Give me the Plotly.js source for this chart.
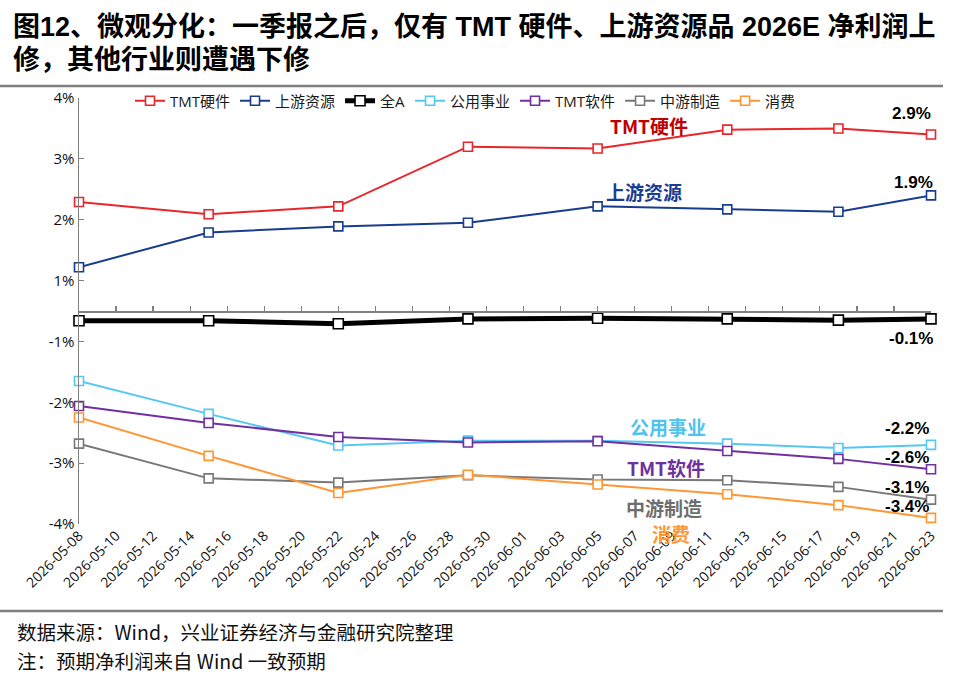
<!DOCTYPE html>
<html>
<head>
<meta charset="utf-8">
<script src="https://cdn.plot.ly/plotly-3.0.1.min.js"></script>
<style>
  html, body { margin: 0; padding: 0; background: #ffffff; }
  #chart { width: 968px; height: 680px; }
</style>
</head>
<body>
<div id="chart"></div>
<script>
// Weekly snapshots of 2026E consensus net-profit revisions (%)
const dates = ['2026-05-08', '2026-05-15', '2026-05-22', '2026-05-29', '2026-06-05', '2026-06-12', '2026-06-18', '2026-06-23'];

const tmtHardware = [1.79, 1.59, 1.72, 2.70, 2.67, 2.98, 3.00, 2.9];
const upstream    = [0.72, 1.29, 1.39, 1.45, 1.72, 1.67, 1.63, 1.9];
const allA        = [-0.16, -0.16, -0.21, -0.13, -0.12, -0.13, -0.15, -0.13];
const utilities   = [-1.15, -1.69, -2.21, -2.13, -2.13, -2.18, -2.25, -2.2];
const tmtSoftware = [-1.56, -1.84, -2.07, -2.16, -2.14, -2.30, -2.43, -2.6];
const midstream   = [-2.18, -2.75, -2.82, -2.70, -2.77, -2.78, -2.89, -3.1];
const consumer    = [-1.75, -2.38, -2.99, -2.69, -2.85, -3.01, -3.19, -3.4];

const seriesNames = ['TMT硬件', '上游资源', '全A', '公用事业', 'TMT软件', '中游制造', '消费'];

// Axis ticks sit at the half-percent gridpoints, printed with zero decimals
const yTickVals = [3.5, 2.5, 1.5, 0.5, -0.5, -1.5, -2.5, -3.5];
const yTickText = ['4%', '3%', '2%', '1%', '-1%', '-2%', '-3%', '-4%'];

const titleLines = ['图12、微观分化：一季报之后，仅有 TMT 硬件、上游资源品 2026E 净利润上', '修，其他行业则遭遇下修'];
const notes = ['数据来源：Wind，兴业证券经济与金融研究院整理', '注：预期净利润来自 Wind 一致预期'];

// ---- geometry helpers (page pixels -> paper fractions) ----
const W = 968, H = 680;
const M = { l: 79, r: 37, t: 98, b: 156 };
const PW = W - M.l - M.r, PH = H - M.t - M.b;
const px = x => (x - M.l) / PW;
const py = y => (H - M.b - y) / PH;

const CJK = '"Noto Sans CJK SC", "Noto Sans", sans-serif';
const LATIN = '"Liberation Sans", Arial, sans-serif';
const HEAD = '"Liberation Sans", "Noto Sans CJK SC", sans-serif';
const TICKF = '"Open Sans", "Noto Sans CJK SC", sans-serif';

const series = [
  { name: seriesNames[0], y: tmtHardware, color: '#E8262B', width: 2, labelColor: '#C00000', labelPos: [649, 125], valShift: [-20, 21] },
  { name: seriesNames[1], y: upstream,    color: '#183C8E', width: 2, labelColor: '#1B3D92', labelPos: [644, 191], valShift: [-18, 13] },
  { name: seriesNames[2], y: allA,        color: '#000000', width: 5, labelColor: null,      labelPos: null,       valShift: [-20, -20] },
  { name: seriesNames[3], y: utilities,   color: '#55C8F2', width: 2, labelColor: '#4EC3EF', labelPos: [668, 426], valShift: [-24, 16] },
  { name: seriesNames[4], y: tmtSoftware, color: '#7030A0', width: 2, labelColor: '#7030A0', labelPos: [666, 467], valShift: [-24, 12] },
  { name: seriesNames[5], y: midstream,   color: '#787878', width: 2, labelColor: '#6E6E6E', labelPos: [664, 507], valShift: [-24, 12.5] },
  { name: seriesNames[6], y: consumer,    color: '#FF9633', width: 2, labelColor: '#FF9633', labelPos: [671, 533], valShift: [-24, 11.5] }
];

const traces = series.map((s, i) => ({
  type: 'scatter',
  mode: 'lines+markers',
  name: s.name,
  x: dates,
  y: s.y,
  xaxis: i === 2 ? 'x2' : 'x',
  yaxis: 'y',
  cliponaxis: false,
  line: { color: s.color, width: s.width },
  marker: {
    symbol: 'square',
    size: i === 2 ? 10 : 9,
    color: '#ffffff',
    line: { color: s.color, width: 1.6 }
  },
  hoverinfo: 'x+y+name'
}));

const annotations = [];

// End-of-line value labels, tied to each series' last point
series.forEach(s => {
  const last = s.y[s.y.length - 1];
  annotations.push({
    xref: 'x', yref: 'y',
    x: dates[dates.length - 1], y: last,
    xshift: s.valShift[0], yshift: s.valShift[1],
    text: last.toFixed(1) + '%',
    showarrow: false,
    font: { family: LATIN, size: 17, color: '#000000', weight: 700 }
  });
});

// Series name labels beside the lines
series.forEach(s => {
  if (!s.labelPos) return;
  annotations.push({
    xref: 'paper', yref: 'paper',
    x: px(s.labelPos[0]), y: py(s.labelPos[1]),
    xanchor: 'center', yanchor: 'middle',
    text: s.name,
    showarrow: false,
    font: { family: CJK, size: 19, color: s.labelColor, weight: 700 }
  });
});

// Two-line heading
[27, 60].forEach((yy, i) => {
  annotations.push({
    xref: 'paper', yref: 'paper', x: px(11), y: py(yy), xanchor: 'left', yanchor: 'middle',
    text: titleLines[i], showarrow: false,
    font: { family: HEAD, size: 27, color: '#000000', weight: 700 }
  });
});

// Source notes below the chart
[631, 660].forEach((yy, i) => {
  annotations.push({
    xref: 'paper', yref: 'paper', x: px(15), y: py(yy), xanchor: 'left', yanchor: 'middle',
    text: notes[i], showarrow: false,
    font: { family: CJK, size: 19.5, color: '#111111' }
  });
});

// Grey rules framing the figure
const shapes = [86, 611].map(yy => ({
  type: 'line', xref: 'paper', yref: 'paper',
  x0: px(0), x1: px(943), y0: py(yy), y1: py(yy),
  line: { color: '#7F7F7F', width: 2.5 }
}));

const xRange = [dates[0], dates[dates.length - 1]];
const twoDays = 2 * 24 * 3600 * 1000;

const layout = {
  width: W, height: H,
  margin: M,
  paper_bgcolor: '#ffffff',
  plot_bgcolor: 'rgba(0,0,0,0)',
  showlegend: true,
  legend: {
    orientation: 'h',
    x: px(130), xanchor: 'left',
    y: py(101), yanchor: 'middle',
    bgcolor: 'rgba(0,0,0,0)',
    font: { family: TICKF, size: 15, color: '#1a1a1a' },
    itemclick: false, itemdoubleclick: false,
    traceorder: 'normal'
  },
  xaxis: {
    type: 'date',
    range: xRange,
    tick0: dates[0], dtick: twoDays,
    tickformat: '%Y-%m-%d',
    tickangle: -45,
    showline: false, showgrid: false, zeroline: false,
    ticks: '',
    tickfont: { family: TICKF, size: 14, color: '#111111' },
    anchor: 'y'
  },
  xaxis2: {
    type: 'date',
    overlaying: 'x',
    anchor: 'free', position: 0.5,
    range: xRange,
    tick0: dates[0], dtick: twoDays,
    showticklabels: false,
    showline: true, linecolor: '#808080', linewidth: 1.5,
    ticks: 'inside', ticklen: 5, tickcolor: '#808080', tickwidth: 1.2,
    showgrid: false, zeroline: false
  },
  yaxis: {
    range: [-3.5, 3.5],
    tickmode: 'array',
    tickvals: yTickVals,
    ticktext: yTickText,
    showline: true, linecolor: '#808080', linewidth: 1.5,
    ticks: 'inside', ticklen: 5, tickcolor: '#808080', tickwidth: 1.2,
    showgrid: false, zeroline: false,
    tickfont: { family: TICKF, size: 15, color: '#111111' }
  },
  annotations: annotations,
  shapes: shapes
};

Plotly.newPlot('chart', traces, layout, { displayModeBar: false, staticPlot: true });
</script>
</body>
</html>
